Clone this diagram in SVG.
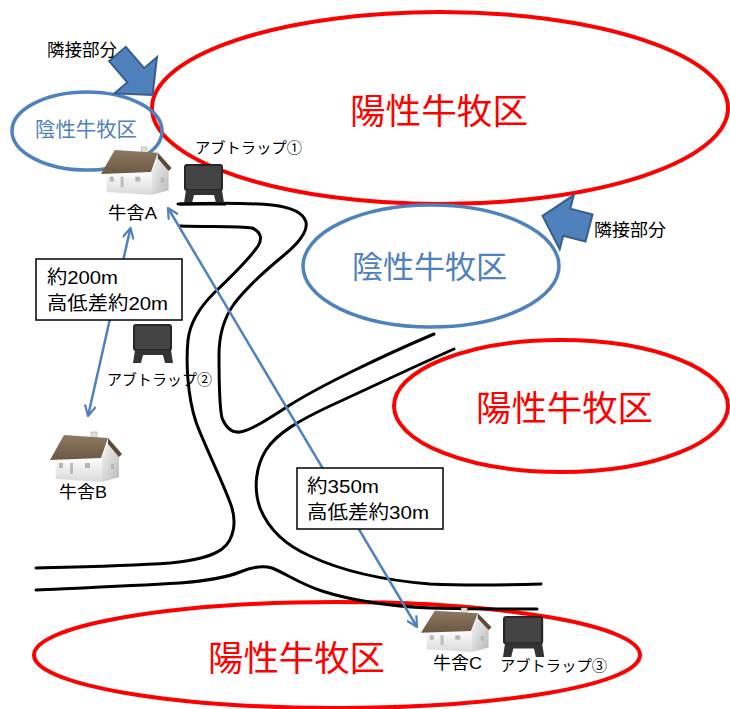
<svg xmlns="http://www.w3.org/2000/svg" xmlns:xlink="http://www.w3.org/1999/xlink" width="730" height="709" viewBox="0 0 730 709">
  <style>
    text { font-family: "Liberation Sans", "Noto Sans CJK JP", sans-serif; fill: #000; }
    .pos { fill: none; stroke: #ff0000; stroke-width: 4; }
    .neg { fill: none; stroke: #4f81bd; stroke-width: 3.5; }
    .pos-t { fill: #ff0000; }
    .neg-t { fill: #4f81bd; }
    .road { fill: none; stroke: #000; stroke-width: 3; stroke-linecap: round; stroke-linejoin: round; }
    .dist { stroke: #4f81bd; stroke-width: 2.5; fill: none; marker-start: url(#tip); marker-end: url(#tip); }
    .box { fill: #fff; stroke: #000; stroke-width: 1.5; }
    .adj { fill: #4f81bd; stroke: #385d8a; stroke-width: 2; stroke-linejoin: miter; }
  </style>
  <defs>
    <marker id="tip" viewBox="0 0 12 12" refX="11" refY="6" markerWidth="12" markerHeight="12" markerUnits="userSpaceOnUse" orient="auto-start-reverse">
      <path d="M0.5,0.5 L11,6 L0.5,11.5" fill="none" stroke="#4f81bd" stroke-width="2.2"/>
    </marker>
    <linearGradient id="wall" x1="0" y1="0" x2="0" y2="1">
      <stop offset="0" stop-color="#ffffff"/>
      <stop offset="1" stop-color="#d9d9d9"/>
    </linearGradient>
    <linearGradient id="gable" x1="0" y1="0" x2="1" y2="1">
      <stop offset="0" stop-color="#f4f4f4"/>
      <stop offset="1" stop-color="#b9b9b9"/>
    </linearGradient>
    <linearGradient id="roof" x1="0" y1="0" x2="0" y2="1">
      <stop offset="0" stop-color="#8e7a62"/>
      <stop offset="1" stop-color="#6c5843"/>
    </linearGradient>
    <!-- cowshed icon, 72 x 50 -->
    <g id="house">
      <rect x="41" y="0" width="6" height="9" fill="#dedede" stroke="#a8a8a8" stroke-width="0.6"/>
      <polygon points="5,26 52,25 52,50 6,47" fill="url(#wall)"/>
      <polygon points="52,25 58,11 69,24 69,45 52,50" fill="url(#gable)"/>
      <polygon points="0,28 14,3 58,6 51,26" fill="url(#roof)"/>
      <polygon points="58,6 72,22 69,25 58,12" fill="#5b4935"/>
      <rect x="9" y="31" width="4" height="5" fill="#b5b5b5"/>
      <rect x="20" y="31" width="3" height="11" fill="#bcbcbc"/>
      <rect x="35" y="31" width="5" height="5" fill="#b5b5b5"/>
      <rect x="61" y="32" width="3" height="5" fill="#b5b5b5"/>
    </g>
    <!-- trap icon, 40 x 38 -->
    <g id="trap">
      <rect x="1" y="0" width="37" height="25" rx="2" fill="#444" stroke="#262626" stroke-width="2"/>
      <polygon points="2,25 38,25 40,38 32,38 30,30 10,30 8,38 0,38" fill="#333"/>
    </g>
  </defs>

  <rect width="730" height="709" fill="#fff"/>

  <!-- pasture zones -->
  <g id="zone-pos-top">
    <ellipse class="pos" cx="440" cy="108" rx="288" ry="96"/>
    <text class="pos-t" x="350" y="124" font-size="35" textLength="178" lengthAdjust="spacingAndGlyphs">陽性牛牧区</text>
  </g>
  <g id="zone-neg-left">
    <ellipse class="neg" cx="87" cy="131" rx="75" ry="39"/>
    <text class="neg-t" x="35" y="137" font-size="20" textLength="102" lengthAdjust="spacingAndGlyphs">陰性牛牧区</text>
  </g>
  <g id="zone-neg-mid">
    <ellipse class="neg" cx="431" cy="266" rx="128" ry="61"/>
    <text class="neg-t" x="352" y="278" font-size="31" textLength="155" lengthAdjust="spacingAndGlyphs">陰性牛牧区</text>
  </g>
  <g id="zone-pos-right">
    <ellipse class="pos" cx="561" cy="406" rx="167" ry="66"/>
    <text class="pos-t" x="476" y="421" font-size="35" textLength="177" lengthAdjust="spacingAndGlyphs">陽性牛牧区</text>
  </g>
  <g id="zone-pos-bottom">
    <ellipse class="pos" cx="337" cy="655" rx="303" ry="53"/>
    <text class="pos-t" x="208" y="671" font-size="35" textLength="177" lengthAdjust="spacingAndGlyphs">陽性牛牧区</text>
  </g>

  <!-- roads -->
  <g id="roads">
    <path class="road" d="M178,204 C210,203 250,203 272,205 C290,207 303,212 306,222 C308,232 299,243 283,256 C266,270 246,288 234,304 C224,318 219,334 219,355 C219,380 219,405 222,418 C226,428 232,433 240,432 C252,430 270,418 290,405 C320,386 380,357 434,334"/>
    <path class="road" d="M180,226 C210,227 240,226 252,228 C262,232 262,240 258,246 C250,258 234,274 214,293 C200,307 190,322 188,340 C186,360 187,395 196,422 C203,442 222,480 231,505 C237,522 234,540 222,549 C210,558 190,561 170,563 C130,566 80,567 36,568"/>
    <path class="road" d="M454,349 C420,364 380,383 330,406 C300,420 277,433 266,450 C256,466 253,488 260,508 C268,528 285,545 310,556 C340,570 380,580 430,584 C470,586 510,585 541,584"/>
    <path class="road" d="M36,590 C80,588 130,586 180,583 C205,581 225,578 240,572 C252,567 262,565 272,568 C285,573 300,584 322,591 C350,600 385,606 430,608 C470,609 510,609 537,609"/>
  </g>

  <!-- adjacency markers -->
  <g id="adjacent-left">
    <polygon class="adj" transform="translate(117.5,54) rotate(49.5)" points="0,-11 28,-11 28,-28 54,0 28,28 28,11 0,11"/>
    <text x="47" y="56" font-size="17" textLength="70" lengthAdjust="spacingAndGlyphs">隣接部分</text>
  </g>
  <g id="adjacent-right">
    <polygon class="adj" transform="translate(589,228) rotate(194.6)" points="0,-14 23,-14 23,-28 48,0 23,28 23,14 0,14"/>
    <text x="594" y="236" font-size="17" textLength="72" lengthAdjust="spacingAndGlyphs">隣接部分</text>
  </g>

  <!-- distance connectors -->
  <g id="connectors">
    <line class="dist" x1="130.5" y1="228" x2="88" y2="416"/>
    <line class="dist" x1="168" y1="208" x2="417" y2="627"/>
  </g>

  <g id="label-ab">
    <rect class="box" x="36" y="259" width="146" height="61"/>
    <text x="47" y="284" font-size="19" textLength="71" lengthAdjust="spacingAndGlyphs">約200m</text>
    <text x="47" y="310" font-size="19" textLength="121" lengthAdjust="spacingAndGlyphs">高低差約20m</text>
  </g>
  <g id="label-ac">
    <rect class="box" x="297" y="468" width="146" height="61"/>
    <text x="307" y="493" font-size="19" textLength="72" lengthAdjust="spacingAndGlyphs">約350m</text>
    <text x="307" y="519" font-size="19" textLength="122" lengthAdjust="spacingAndGlyphs">高低差約30m</text>
  </g>

  <!-- cowsheds -->
  <g id="shed-a">
    <use xlink:href="#house" transform="translate(101,147) scale(0.98,0.96)"/>
    <text x="108" y="219" font-size="17" textLength="49" lengthAdjust="spacingAndGlyphs">牛舎A</text>
  </g>
  <g id="shed-b">
    <use xlink:href="#house" transform="translate(50,432)"/>
    <text x="59" y="498" font-size="17" textLength="48" lengthAdjust="spacingAndGlyphs">牛舎B</text>
  </g>
  <g id="shed-c">
    <use xlink:href="#house" transform="translate(421,608) scale(0.98,0.88)"/>
    <text x="433" y="669" font-size="17" textLength="49" lengthAdjust="spacingAndGlyphs">牛舎C</text>
  </g>

  <!-- traps -->
  <g id="trap-1">
    <use xlink:href="#trap" transform="translate(184,165)"/>
    <line x1="180" y1="204" x2="226" y2="204" stroke="#000" stroke-width="3"/>
    <text x="195" y="153" font-size="15" textLength="107" lengthAdjust="spacingAndGlyphs">アブトラップ①</text>
  </g>
  <g id="trap-2">
    <use xlink:href="#trap" transform="translate(133,325)"/>
    <text x="107" y="385" font-size="15" textLength="105" lengthAdjust="spacingAndGlyphs">アブトラップ②</text>
  </g>
  <g id="trap-3">
    <use xlink:href="#trap" transform="translate(503,617) scale(1.03,1.05)"/>
    <text x="500" y="671" font-size="15" textLength="107" lengthAdjust="spacingAndGlyphs">アブトラップ③</text>
  </g>
</svg>
